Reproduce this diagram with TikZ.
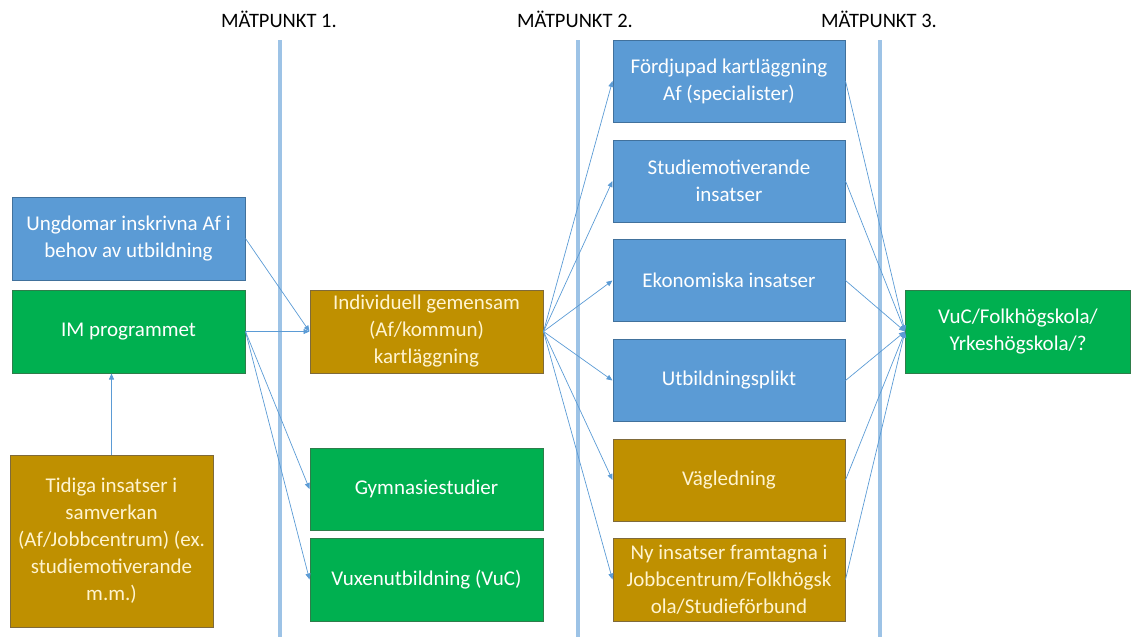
\documentclass[tikz,border=0pt]{standalone}
\usepackage{fontspec}
\setmainfont{Carlito}
\usetikzlibrary{arrows.meta}
\definecolor{bfill}{HTML}{5B9BD5}
\definecolor{bdraw}{HTML}{41719C}
\definecolor{gfill}{HTML}{00B050}
\definecolor{gdraw}{HTML}{2E7D4A}
\definecolor{ofill}{HTML}{BF9000}
\definecolor{odraw}{HTML}{7F6A3A}
\definecolor{otext}{HTML}{FFF4D0}
\definecolor{vline}{HTML}{9DC3E6}
\definecolor{arr}{HTML}{5B9BD5}
\tikzset{
  box/.style={draw, line width=1pt, align=center, inner sep=2pt,
    font=\fontsize{21}{27}\selectfont, text=white},
  bluebox/.style={box, fill=bfill, draw=bdraw},
  greenbox/.style={box, fill=gfill, draw=gdraw},
  goldbox/.style={box, fill=ofill, draw=odraw, text=otext},
  conn/.style={draw=arr, line width=0.7pt, -{Triangle[length=6pt,width=5pt]}},
  meas/.style={draw=vline, line width=3.5pt},
  mlabel/.style={font=\fontsize{20.5}{24}\selectfont, text=black, inner sep=0pt}
}
\begin{document}
\begin{tikzpicture}[x=1pt,y=-1pt]
\useasboundingbox (0,0) rectangle (1132,637);
% measurement lines
\node[mlabel] (m1) at (279,19) {MÄTPUNKT 1.};
\node[mlabel] (m2) at (575,19) {MÄTPUNKT 2.};
\node[mlabel] (m3) at (879,19) {MÄTPUNKT 3.};
\coordinate (l1t) at (280,40); \coordinate (l1b) at (280,637);
\coordinate (l2t) at (578,40); \coordinate (l2b) at (578,637);
\coordinate (l3t) at (880,40); \coordinate (l3b) at (880,637);
\draw[meas] (l1t) -- (l1b);
\draw[meas] (l2t) -- (l2b);
\draw[meas] (l3t) -- (l3b);
% left column
\node[bluebox, minimum width=233pt, minimum height=83pt] (ung) at (128.5,238.5) {Ungdomar inskrivna Af i\\behov av utbildning};
\node[greenbox, minimum width=233pt, minimum height=83pt] (im) at (128.5,331.5) {IM programmet};
\node[goldbox, minimum width=203pt, minimum height=172pt] (tid) at (111.5,541) {Tidiga insatser i\\samverkan\\(Af/Jobbcentrum) (ex.\\studiemotiverande\\m.m.)};
% middle column
\node[goldbox, minimum width=233pt, minimum height=83pt] (ind) at (426.5,331.5) {Individuell gemensam\\(Af/kommun)\\kartläggning};
\node[greenbox, minimum width=233pt, minimum height=82pt] (gym) at (426.5,489) {Gymnasiestudier};
\node[greenbox, minimum width=233pt, minimum height=83pt] (vux) at (426.5,579.5) {Vuxenutbildning (VuC)};
% right column
\node[bluebox, minimum width=232pt, minimum height=82pt] (ford) at (729,81) {Fördjupad kartläggning\\Af (specialister)};
\node[bluebox, minimum width=232pt, minimum height=82pt] (stud) at (729,181) {Studiemotiverande\\insatser};
\node[bluebox, minimum width=232pt, minimum height=82pt] (eko) at (729,280.5) {Ekonomiska insatser};
\node[bluebox, minimum width=232pt, minimum height=82pt] (utb) at (729,380.5) {Utbildningsplikt};
\node[goldbox, minimum width=232pt, minimum height=82pt] (vag) at (729,480) {Vägledning};
\node[goldbox, minimum width=232pt, minimum height=83pt] (ny) at (729,579.5) {Ny insatser framtagna i\\Jobbcentrum/Folkhögsk\\ola/Studieförbund};
% target
\node[greenbox, minimum width=225pt, minimum height=83pt] (vuc) at (1018,331.5) {VuC/Folkhögskola/\\Yrkeshögskola/?};
% connectors
\draw[conn] (ung.east) -- (ind.west);
\draw[conn] (im.east) -- (ind.west);
\draw[conn] (im.east) -- (gym.west);
\draw[conn] (im.east) -- (vux.west);
\draw[conn] (tid.north) -- (im.south -| tid.north);
\foreach \t in {ford,stud,eko,utb,vag,ny}{
  \draw[conn] (ind.east) -- (\t.west);
  \draw[conn] (\t.east) -- (vuc.west);
}
\end{tikzpicture}
\end{document}
